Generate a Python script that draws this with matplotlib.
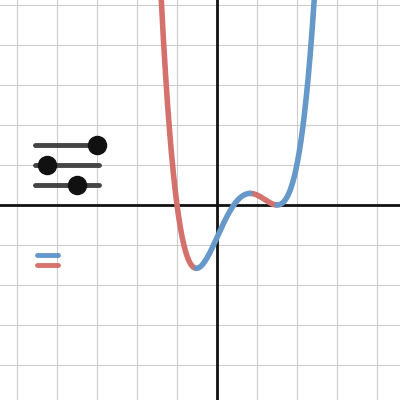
import numpy as np
import matplotlib
matplotlib.use("Agg")
import matplotlib.pyplot as plt

roots = [-1.0, 0.42, 1.5, 1.5]
scale = 0.86
slider_y = [1.5, 1.0, 0.5]
slider_vals = [-3.0, -4.25, -3.5]
legend_y = [-1.25, -1.5]
legend_colors = ["#3f7fc0", "#d0504c"]

xmin, xmax = -217/40, 183/40
ymin, ymax = -195/40, 205/40

fig = plt.figure(figsize=(4, 4), dpi=100)
ax = fig.add_axes([0, 0, 1, 1])
ax.set_xlim(xmin, xmax); ax.set_ylim(ymin, ymax)
ax.axis("off")
for gx in np.arange(-5, 5):
    ax.axvline(gx, color="#cccccc", lw=0.8, zorder=0)
for gy in np.arange(-4, 6):
    ax.axhline(gy, color="#cccccc", lw=0.8, zorder=0)
ax.axvline(0, color="#111111", lw=2, zorder=1)
ax.axhline(0, color="#111111", lw=2, zorder=1)

poly = scale * np.poly(roots)
dpoly = np.polyder(poly)
x = np.linspace(-1.6, 2.6, 2000)
y = np.polyval(poly, x)
d = np.polyval(dpoly, x)
inc = d >= 0
yb = np.where(inc, y, np.nan); yr = np.where(~inc, y, np.nan)
# connect segments
for i in range(1, len(x)):
    if inc[i] != inc[i-1]:
        yb[i-1] = y[i-1]; yb[i] = y[i]
ax.plot(x, yr, color="#d4716d", lw=4, solid_capstyle="round", zorder=3)
ax.plot(x, yb, color="#6698c9", lw=4, solid_capstyle="round", zorder=3)

for sy, sv in zip(slider_y, slider_vals):
    ax.plot([-4.55, -2.95], [sy, sy], color="#444444", lw=3.5, solid_capstyle="round", zorder=4)
    ax.plot([sv], [sy], "o", color="#111111", ms=13, zorder=5)
for ly, lc in zip(legend_y, legend_colors):
    ax.plot([-4.5, -3.98], [ly, ly], color=lc, lw=3.5, solid_capstyle="round", alpha=0.8, zorder=4)

fig.savefig("out.png", dpi=100)
